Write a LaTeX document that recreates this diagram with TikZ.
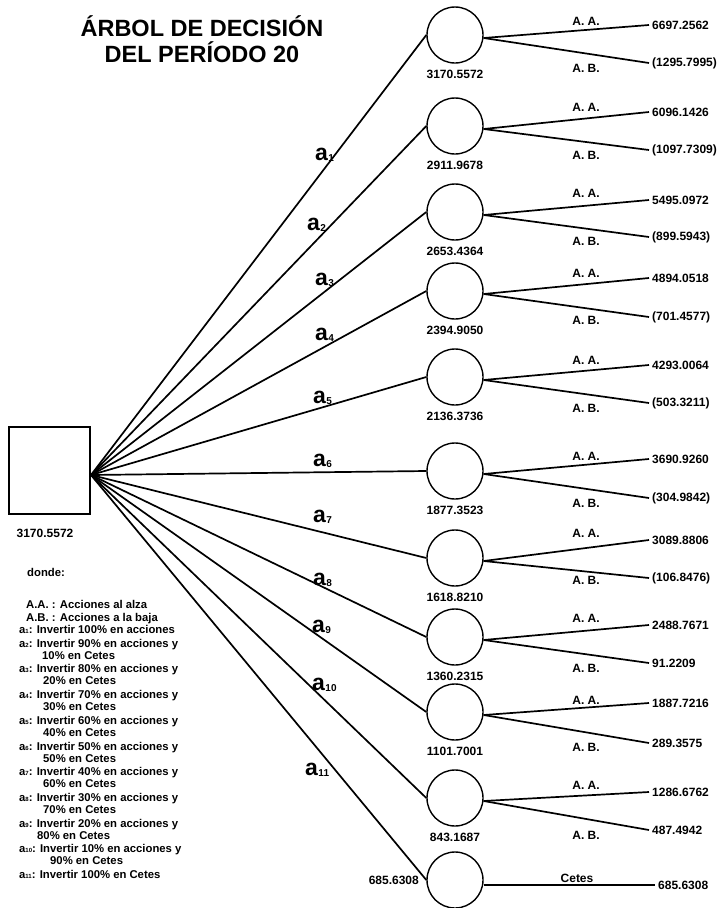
\documentclass[tikz,border=0pt]{standalone}
\usepackage{fontspec}
\setmainfont{Liberation Sans}
\newcommand{\asub}[1]{a\kern0.5pt\raisebox{-1pt}{\fontsize{10}{10}\selectfont #1}}
\newcommand{\lsub}[1]{a\raisebox{-0.5pt}{\fontsize{6}{6}\selectfont #1}}
\begin{document}
\begin{tikzpicture}[x=1pt,y=-1pt,
  every node/.style={inner sep=0pt},
  txt/.style={font=\bfseries\fontsize{12}{13}\selectfont},
  leg/.style={font=\bfseries\fontsize{11.3}{13}\selectfont, anchor=base west},
  chance/.style={draw, circle, minimum size=56pt, line width=1.4pt},
  decision/.style={draw, rectangle, minimum width=81pt, minimum height=87pt, line width=1.4pt},
  edge/.style={line width=1.7pt},
  alab/.style={font=\bfseries\fontsize{23}{23}\selectfont, anchor=base west},
  val/.style={txt, anchor=west, inner sep=3pt},
]
\useasboundingbox (0,0) rectangle (722,908);

% title
\node[font=\bfseries\fontsize{23.5}{26}\selectfont, align=center] (title) at (202,39) {ÁRBOL DE DECISIÓN\\DEL PERÍODO 20};

% root decision node
\node[decision] (root) at (49.5,470.5) {};
\node[txt] (rootval) at (45,533) {3170.5572};
\coordinate (o) at (91,475);

% chance nodes with two branches
\foreach \i/\cy/\cv/\uy/\dy/\uv/\dv/\ay/\by in {
  1/35/3170.5572/25/63/6697.2562/(1295.7995)/21/68,
  2/126/2911.9678/112/150/6096.1426/(1097.7309)/107/155,
  3/212/2653.4364/200/237/5495.0972/(899.5943)/193/241,
  4/291/2394.9050/278/317/4894.0518/(701.4577)/273/320,
  5/377/2136.3736/365/403/4293.0064/(503.3211)/360/408,
  6/471/1877.3523/459/498/3690.9260/(304.9842)/456/503,
  7/558/1618.8210/540/578/3089.8806/(106.8476)/533/580,
  8/637/1360.2315/625/663/2488.7671/91.2209/618/668,
  9/712/1101.7001/703/743/1887.7216/289.3575/700/747,
  10/798/843.1687/792/830/1286.6762/487.4942/785/835}
{
  \node[chance] (c\i) at (455,\cy) {};
  \node[txt] (l\i) at (455,\cy+39) {\cv};
  \draw[edge] (o) -- (c\i.west);
  \node[val] (u\i) at (649,\uy) {\uv};
  \node[val] (d\i) at (649,\dy) {\dv};
  \coordinate (s\i) at ([yshift=-3pt]c\i.east);
  \draw[edge] (s\i) -- (u\i.west);
  \draw[edge] (s\i) -- (d\i.west);
  \node[txt] (aa\i) at (586,\ay) {A. A.};
  \node[txt] (ab\i) at (586,\by) {A. B.};
}

% last chance node (Cetes)
\node[chance] (c11) at (455,880) {};
\node[txt, anchor=east] (l11) at (419,880) {685.6308};
\draw[edge] (o) -- (c11.west);
\node[val] (u11) at (655,885) {685.6308};
\draw[edge] ([yshift=-5pt]c11.east) -- (u11.west);
\node[txt] (cetes) at (577,878) {Cetes};

% action labels
\node[alab] (a1) at (315,160) {\asub{1}};
\node[alab] (a2) at (307,230) {\asub{2}};
\node[alab] (a3) at (315,285) {\asub{3}};
\node[alab] (a4) at (315,340) {\asub{4}};
\node[alab] (a5) at (313,403) {\asub{5}};
\node[alab] (a6) at (313,466) {\asub{6}};
\node[alab] (a7) at (313,522) {\asub{7}};
\node[alab] (a8) at (313,585) {\asub{8}};
\node[alab] (a9) at (312,632) {\asub{9}};
\node[alab] (a10) at (312,690) {\asub{10}};
\node[alab] (a11) at (305,775) {\asub{11}};

% legend
\node[leg] (donde) at (27,576) {donde:};
\node[leg] (laa) at (26,608) {A.A. : Acciones al alza};
\node[leg] (lab) at (26,621) {A.B. : Acciones a la baja};
\node[leg] (la1) at (19,633) {\lsub{1}: Invertir 100\% en acciones};
\foreach \k/\p/\q/\y/\xx in {2/90/10/647/42, 3/80/20/672/43, 4/70/30/698/43,
  5/60/40/724/43, 6/50/50/750/43, 7/40/60/775/43, 8/30/70/801/43,
  9/20/80/827/37, 10/10/90/852/50}
{
  \node[leg] (la\k) at (19,\y) {\lsub{\k}: Invertir \p\% en acciones y};
  \node[leg] (lb\k) at (\xx,\y+12.5) {\q\% en Cetes};
}
\node[leg] (la11) at (19,878) {\lsub{11}: Invertir 100\% en Cetes};
\end{tikzpicture}
\end{document}
